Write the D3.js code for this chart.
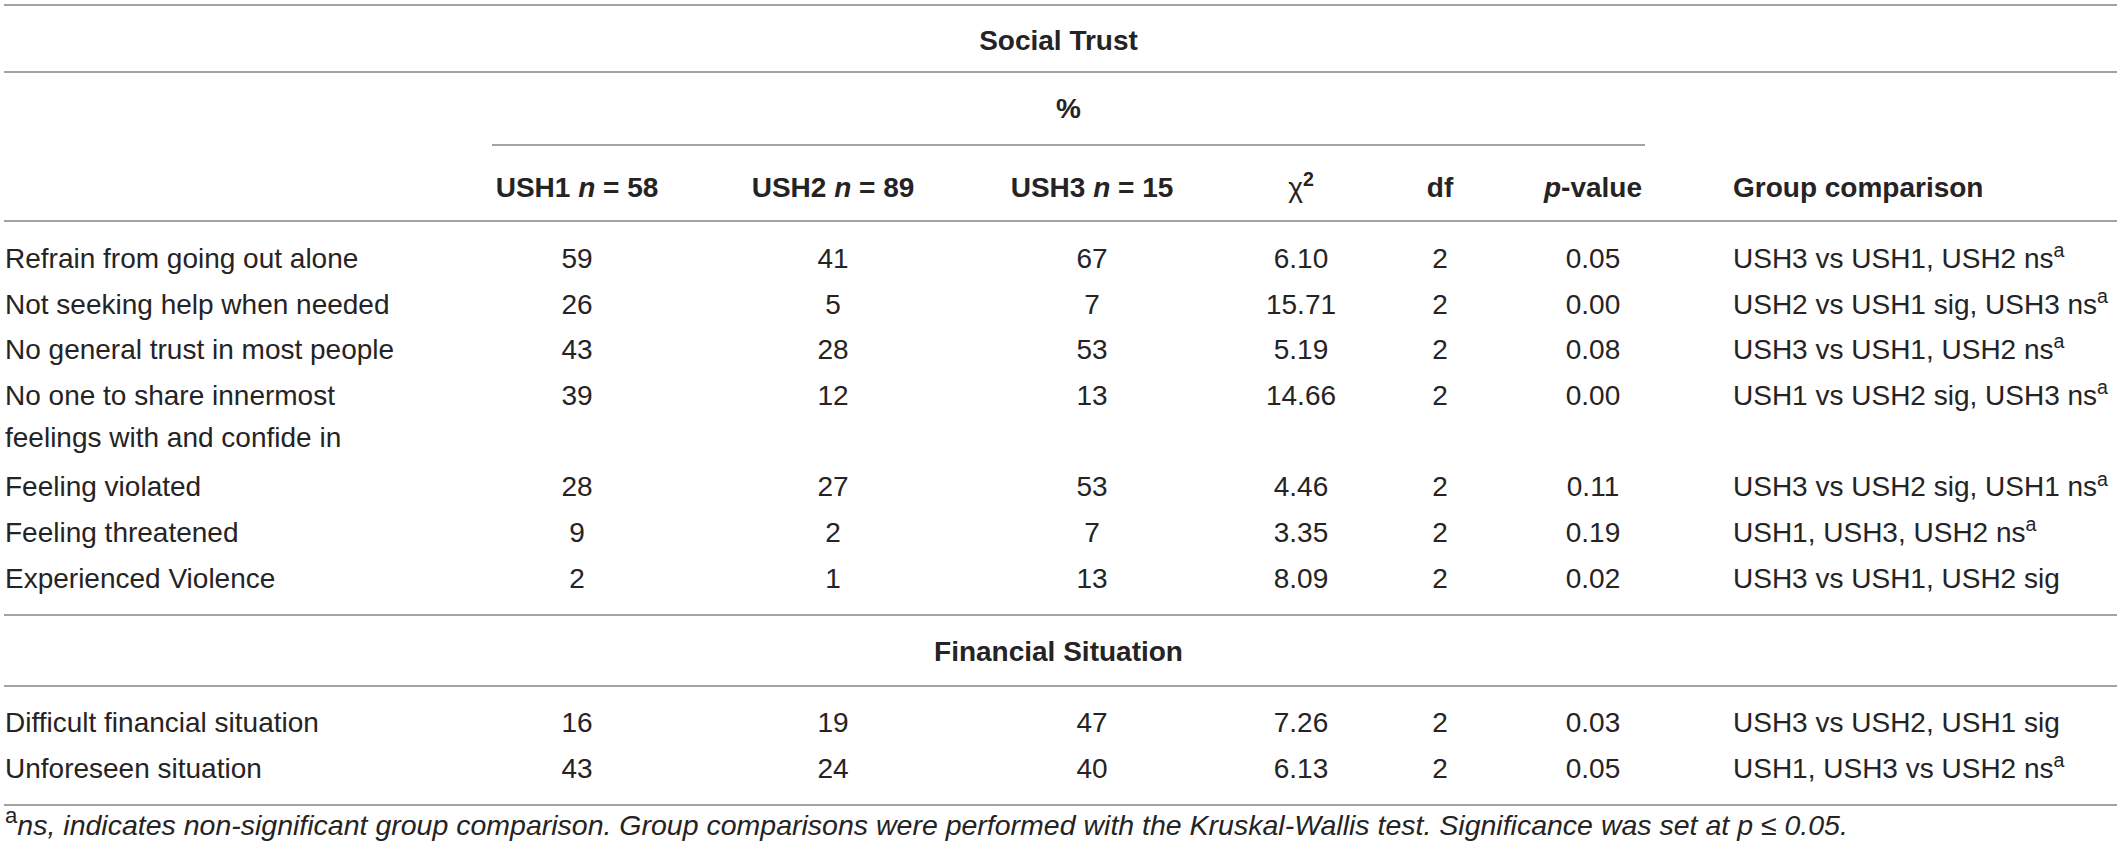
<!DOCTYPE html>
<html>
<head>
<meta charset="utf-8">
<script src="https://cdn.jsdelivr.net/npm/d3@7"></script>
<style>
  html, body { margin: 0; padding: 0; background: #fff; }
  svg text { font-family: "Liberation Sans", Arial, Helvetica, sans-serif; fill: #262324; }
</style>
</head>
<body>
<svg id="chart" width="2117" height="855"></svg>
<script>
// ---------- DATA ----------
const sections = ["Social Trust", "Financial Situation"];
const rowLabels = [
  ["Refrain from going out alone"],
  ["Not seeking help when needed"],
  ["No general trust in most people"],
  ["No one to share innermost", "feelings with and confide in"],
  ["Feeling violated"],
  ["Feeling threatened"],
  ["Experienced Violence"],
  ["Difficult financial situation"],
  ["Unforeseen situation"]
];
const rowSection = [0, 0, 0, 0, 0, 0, 0, 1, 1];
const ush1 = [59, 26, 43, 39, 28, 9, 2, 16, 43];
const ush2 = [41, 5, 28, 12, 27, 2, 1, 19, 24];
const ush3 = [67, 7, 53, 13, 53, 7, 13, 47, 40];
const chi2 = ["6.10", "15.71", "5.19", "14.66", "4.46", "3.35", "8.09", "7.26", "6.13"];
const dfs = [2, 2, 2, 2, 2, 2, 2, 2, 2];
const pvals = ["0.05", "0.00", "0.08", "0.00", "0.11", "0.19", "0.02", "0.03", "0.05"];
const comparisons = [
  "USH3 vs USH1, USH2 ns", "USH2 vs USH1 sig, USH3 ns", "USH3 vs USH1, USH2 ns",
  "USH1 vs USH2 sig, USH3 ns", "USH3 vs USH2 sig, USH1 ns", "USH1, USH3, USH2 ns",
  "USH3 vs USH1, USH2 sig", "USH3 vs USH2, USH1 sig", "USH1, USH3 vs USH2 ns"
];
const compFootnote = [true, true, true, true, true, true, false, false, true];
const groupHeaders = [
  { g: "USH1", n: "58" }, { g: "USH2", n: "89" }, { g: "USH3", n: "15" }
];
const statHeaders = ["χ", "df", "p-value", "Group comparison"];
const percentLabel = "%";
const footnoteMark = "a";
const footnoteText = "ns, indicates non-significant group comparison. Group comparisons were performed with the Kruskal-Wallis test. Significance was set at ";
const footnoteEnd = " ≤ 0.05.";

// ---------- LAYOUT ----------
const W = 2117, H = 855;
const FS = 28;
const NOTE_END = 1848;
const svg = d3.select("#chart");

const colKeys = ["label", "ush1", "ush2", "ush3", "chi2", "df", "p", "comp"];
const x = d3.scaleOrdinal().domain(colKeys).range([5, 577, 833, 1092, 1301, 1440, 1593, 1733]);

const ySocial = d3.scaleLinear().domain([0, 7]).range([258, 578]);
const yFin = d3.scaleLinear().domain([0, 1]).range([722, 768]);
const labelSlot = [0, 1, 2, 3, 5, 6, 7];

function rowY(i) {
  if (rowSection[i] === 0) return ySocial(labelSlot[i]);
  return yFin(i - 7);
}

const hLine = (y, x1 = 4, x2 = W) =>
  svg.append("line").attr("x1", x1).attr("x2", x2).attr("y1", y).attr("y2", y)
    .attr("stroke", "#a3a3a3").attr("stroke-width", 2);

[5, 72, 221, 615, 686, 805].forEach(y => hLine(y));
hLine(145, x("ush1") - 85, x("p") + 52);

svg.append("text").attr("x", W / 2).attr("y", 40).attr("dy", "0.35em")
  .attr("text-anchor", "middle").attr("font-size", FS).attr("font-weight", "bold")
  .text(sections[0]);
svg.append("text").attr("x", W / 2).attr("y", 651).attr("dy", "0.35em")
  .attr("text-anchor", "middle").attr("font-size", FS).attr("font-weight", "bold")
  .text(sections[1]);

svg.append("text").attr("x", (x("ush1") - 85 + x("p") + 52) / 2).attr("y", 108).attr("dy", "0.35em")
  .attr("text-anchor", "middle").attr("font-size", FS).attr("font-weight", "bold")
  .text(percentLabel);

const hy = 187;
["ush1", "ush2", "ush3"].forEach((k, i) => {
  const t = svg.append("text").attr("x", x(k)).attr("y", hy).attr("dy", "0.35em")
    .attr("text-anchor", "middle").attr("font-size", FS).attr("font-weight", "bold");
  t.append("tspan").text(groupHeaders[i].g + " ");
  t.append("tspan").attr("font-style", "italic").text("n");
  t.append("tspan").text(" = " + groupHeaders[i].n);
});
{
  const t = svg.append("text").attr("x", x("chi2")).attr("y", hy).attr("dy", "0.35em")
    .attr("text-anchor", "middle").attr("font-size", FS).attr("font-weight", "bold");
  t.append("tspan").attr("font-weight", "normal").text(statHeaders[0]);
  t.append("tspan").attr("font-size", FS * 0.7).attr("dy", "-0.55em").text("2");
}
svg.append("text").attr("x", x("df")).attr("y", hy).attr("dy", "0.35em")
  .attr("text-anchor", "middle").attr("font-size", FS).attr("font-weight", "bold").text(statHeaders[1]);
{
  const t = svg.append("text").attr("x", x("p")).attr("y", hy).attr("dy", "0.35em")
    .attr("text-anchor", "middle").attr("font-size", FS).attr("font-weight", "bold");
  t.append("tspan").attr("font-style", "italic").text("p");
  t.append("tspan").text("-value");
}
svg.append("text").attr("x", x("comp")).attr("y", hy).attr("dy", "0.35em")
  .attr("text-anchor", "start").attr("font-size", FS).attr("font-weight", "bold").text(statHeaders[3]);

const rows = svg.selectAll("g.row").data(d3.range(rowLabels.length)).join("g").attr("class", "row");

rows.each(function (i) {
  const g = d3.select(this);
  const y = rowY(i);
  rowLabels[i].forEach((line, j) => {
    g.append("text").attr("x", x("label")).attr("y", y + j * 42).attr("dy", "0.35em")
      .attr("font-size", FS).text(line);
  });
  const vals = [["ush1", ush1[i]], ["ush2", ush2[i]], ["ush3", ush3[i]], ["chi2", chi2[i]], ["df", dfs[i]], ["p", pvals[i]]];
  vals.forEach(([k, v]) => {
    g.append("text").attr("x", x(k)).attr("y", y).attr("dy", "0.35em")
      .attr("text-anchor", "middle").attr("font-size", FS).text(v);
  });
  const t = g.append("text").attr("x", x("comp")).attr("y", y).attr("dy", "0.35em")
    .attr("font-size", FS);
  t.append("tspan").text(comparisons[i]);
  if (compFootnote[i]) {
    t.append("tspan").attr("font-size", FS * 0.7).attr("dy", "-0.55em").text(footnoteMark);
  }
});

// footnote, sized so that it ends where the reference line ends
function drawFootnote(fs) {
  svg.select("text.note").remove();
  const t = svg.append("text").attr("class", "note").attr("x", 5).attr("y", 832)
    .attr("dy", "0.35em").attr("font-size", fs);
  t.append("tspan").attr("font-size", fs * 0.78).attr("dy", "-0.4em").text(footnoteMark);
  t.append("tspan").attr("font-style", "italic").attr("dy", "0.4em").text(footnoteText);
  t.append("tspan").attr("font-style", "italic").text("p");
  t.append("tspan").attr("font-style", "italic").text(footnoteEnd);
  return t;
}
let nfs = 26;
const first = drawFootnote(nfs);
const len = first.node().getComputedTextLength();
if (len > 0) {
  nfs = nfs * (NOTE_END - 5) / len;
  drawFootnote(nfs);
}
</script>
</body>
</html>
